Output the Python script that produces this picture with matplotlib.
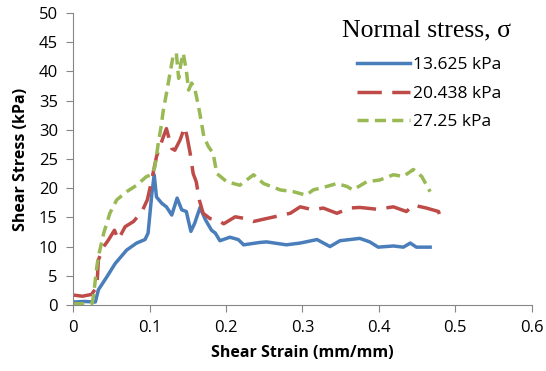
import matplotlib
matplotlib.use("Agg")
from matplotlib import pyplot as plt

# Shear stress vs shear strain, three normal stresses
strain_13 = [0.0, 0.015, 0.029, 0.033, 0.044, 0.055, 0.070, 0.083, 0.094, 0.098, 0.103, 0.106,
             0.109, 0.116, 0.122, 0.129, 0.136, 0.142, 0.148, 0.154, 0.159, 0.166, 0.173,
             0.181, 0.186, 0.192, 0.205, 0.216, 0.223, 0.244, 0.253, 0.279, 0.297, 0.319,
             0.336, 0.349, 0.375, 0.388, 0.399, 0.419, 0.432, 0.441, 0.449, 0.467]
stress_13 = [0.5, 0.6, 0.5, 2.6, 4.8, 7.1, 9.4, 10.6, 11.2, 12.3, 19.1, 22.3,
             18.5, 17.4, 16.8, 15.4, 18.3, 16.3, 16.0, 12.6, 14.0, 16.7, 14.6,
             12.8, 12.3, 11.0, 11.6, 11.2, 10.3, 10.7, 10.8, 10.3, 10.6, 11.2,
             10.0, 11.0, 11.4, 10.8, 9.9, 10.1, 9.9, 10.6, 9.9, 9.9]

strain_20 = [0.0, 0.012, 0.024, 0.031, 0.033, 0.040, 0.046, 0.054, 0.059, 0.068, 0.079, 0.090,
             0.097, 0.101, 0.109, 0.118, 0.122, 0.129, 0.133, 0.140, 0.146, 0.149, 0.153,
             0.157, 0.161, 0.165, 0.170, 0.179, 0.188, 0.197, 0.212, 0.225, 0.236, 0.253,
             0.284, 0.297, 0.314, 0.327, 0.345, 0.362, 0.375, 0.397, 0.419, 0.436, 0.445,
             0.462, 0.478, 0.480]
stress_20 = [1.7, 1.5, 1.8, 3.1, 7.7, 10.0, 11.1, 12.8, 11.2, 13.4, 14.3, 16.0,
             18.0, 20.3, 25.4, 28.8, 30.2, 26.8, 26.5, 28.3, 30.5, 28.8, 26.0,
             22.5, 21.1, 18.0, 15.7, 14.8, 14.6, 13.9, 15.1, 14.8, 14.3, 14.8,
             15.7, 16.8, 16.3, 16.6, 15.7, 16.6, 16.7, 16.4, 16.8, 16.0, 17.1,
             16.6, 16.0, 15.1]

strain_27 = [0.0, 0.015, 0.025, 0.027, 0.031, 0.033, 0.040, 0.048, 0.057, 0.070, 0.083, 0.096,
             0.103, 0.107, 0.112, 0.115, 0.118, 0.122, 0.127, 0.131, 0.135, 0.138, 0.141,
             0.144, 0.148, 0.151, 0.155, 0.159, 0.164, 0.168, 0.171, 0.177, 0.183, 0.188,
             0.201, 0.218, 0.236, 0.249, 0.271, 0.288, 0.305, 0.314, 0.332, 0.345, 0.358,
             0.366, 0.384, 0.401, 0.419, 0.432, 0.445, 0.456, 0.467]
stress_27 = [0.2, 0.2, 0.3, 2.0, 6.6, 8.3, 12.3, 15.7, 18.0, 19.4, 20.5, 22.0,
             22.3, 23.7, 28.3, 30.5, 33.4, 36.2, 39.9, 42.8, 43.1, 38.8, 41.4,
             43.1, 40.2, 36.8, 38.0, 37.1, 34.0, 31.1, 28.8, 27.1, 26.0, 22.5,
             21.1, 20.5, 22.3, 20.8, 19.7, 19.4, 18.8, 19.7, 20.3, 20.8, 20.3,
             19.7, 21.1, 21.4, 22.3, 22.0, 23.2, 22.0, 19.4]

labels = ['13.625 kPa', '20.438 kPa', '27.25 kPa']
x_ticks = [0, 0.1, 0.2, 0.3, 0.4, 0.5, 0.6]
y_ticks = [0, 5, 10, 15, 20, 25, 30, 35, 40, 45, 50]

plt.rcParams['font.family'] = ['Open Sans', 'DejaVu Sans']

fig = plt.figure(figsize=(5.46, 3.71), dpi=100)
ax = fig.add_axes([0.134, 0.178, 0.840, 0.787])

ax.plot(strain_13, stress_13, c='#4a7ebb', lw=2.5, label=labels[0])
ax.plot(strain_20, stress_20, c='#be4b48', lw=2.5, dashes=(7, 3), label=labels[1])
ax.plot(strain_27, stress_27, c='#98b954', lw=2.5, dashes=(3.2, 1.8), label=labels[2])

ax.set_xlim(0, 0.6)
ax.set_ylim(0, 50)
ax.set_xticks(x_ticks)
ax.set_xticklabels([str(t) for t in x_ticks])
ax.set_yticks(y_ticks)
for s in ['top', 'right']:
    ax.spines[s].set_visible(False)
for s in ['left', 'bottom']:
    ax.spines[s].set_color('#868686')
ax.tick_params(axis='both', which='major', labelsize=12, color='#868686',
               length=5, direction='out', pad=6)
ax.set_xlabel('Shear Strain (mm/mm)', fontsize=11.5, fontweight='bold', labelpad=6)
ax.set_ylabel('Shear Stress (kPa)', fontsize=11.5, fontweight='bold', labelpad=7)

fig.text(0.782, 0.917, 'Normal stress, σ', family='Liberation Serif', fontsize=18.5,
         ha='center', va='center')
ax.legend(frameon=False, loc='upper left', bbox_to_anchor=(0.626, 0.889),
          bbox_transform=fig.transFigure, fontsize=12.5, handlelength=3.0,
          handletextpad=0.2, labelspacing=0.72)

plt.savefig('out.png', dpi=100)
